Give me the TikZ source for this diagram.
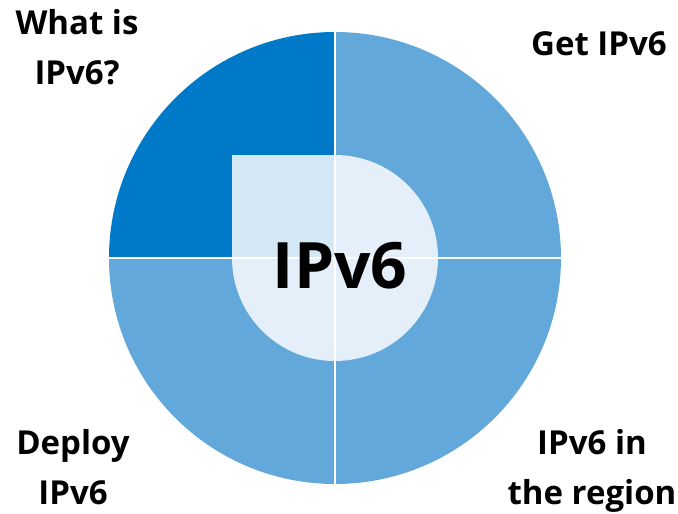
\documentclass[tikz,border=0pt]{standalone}
\usepackage{fontspec}
\setsansfont{Open Sans}
\usetikzlibrary{positioning,calc}
\definecolor{deepblue}{RGB}{0,121,201}
\definecolor{midblue}{RGB}{99,168,219}
\definecolor{squareblue}{RGB}{213,232,245}
\definecolor{paleblue}{RGB}{229,239,249}

\begin{document}
\begin{tikzpicture}[x=1pt,y=1pt,
 quadtext/.style={font=\sffamily\bfseries\fontsize{33}{50}\selectfont,align=center,anchor=base,inner sep=0pt},
 gap/.style={white,line width=2.5pt}]
\useasboundingbox (0,0) rectangle (678,514);
\coordinate (c) at (335,256);
% outer ring, four quarters
\fill[deepblue] (c)--++(180:226) arc (180:90:226)--cycle;
\fill[midblue] (c)--++(90:226) arc (90:-180:226)--cycle;
% inner part
\fill[squareblue] (c) rectangle ++(-103,103);
\fill[paleblue] (c)--++(90:103) arc (90:-180:103)--cycle;
\coordinate (w) at ($(c)+(-226,0)$);
\coordinate (e) at ($(c)+(226,0)$);
\coordinate (n) at ($(c)+(0,226)$);
\coordinate (s) at ($(c)+(0,-226)$);
\draw[gap] (w)--(e);
\draw[gap] (n)--(s);
\node[quadtext,font=\sffamily\bfseries\fontsize{64}{70}\selectfont] (hub) at (340,225) {IPv6};
% base = last line
\node[quadtext] (what) at (77,429) {What is\\IPv6?};
\node[quadtext] (get) at (599,458) {Get IPv6};
\node[quadtext] (deploy) at (73,9) {Deploy\\IPv6};
\node[quadtext] (region) at (592,9) {IPv6 in\\the region};
\end{tikzpicture}
\end{document}
